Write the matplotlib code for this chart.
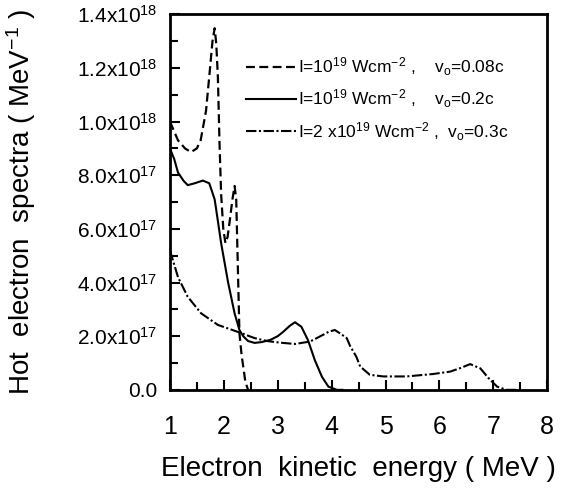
import matplotlib
matplotlib.use("Agg")
import matplotlib.pyplot as plt
from matplotlib.ticker import MultipleLocator, FixedLocator, FixedFormatter

plt.rcParams['font.family'] = ['Liberation Sans', 'DejaVu Sans']
plt.rcParams['mathtext.fontset'] = 'custom'
plt.rcParams['mathtext.rm'] = 'Liberation Sans'
plt.rcParams['mathtext.it'] = 'Liberation Sans'
plt.rcParams['mathtext.default'] = 'regular'

# Series 1: I=1e19, v0=0.08c (dashed)
e1 = [1.0, 1.15, 1.28, 1.39, 1.5, 1.57, 1.67, 1.74, 1.79, 1.83, 1.86, 1.89, 1.92, 1.95,
      1.99, 2.03, 2.07, 2.11, 2.16, 2.20, 2.23, 2.26, 2.29, 2.33, 2.36, 2.40, 2.45]
s1 = [1.0, 0.93, 0.90, 0.886, 0.90, 0.93, 1.04, 1.19, 1.30, 1.348, 1.29, 1.165, 0.92, 0.73,
      0.60, 0.547, 0.57, 0.63, 0.71, 0.76, 0.71, 0.46, 0.21, 0.13, 0.087, 0.03, 0.0]

# Series 2: I=1e19, v0=0.2c (solid)
e2 = [1.0, 1.08, 1.15, 1.25, 1.33, 1.46, 1.61, 1.73, 1.83, 1.86, 1.95, 2.08, 2.20, 2.29,
      2.36, 2.45, 2.57, 2.70, 2.86, 3.0, 3.1, 3.22, 3.32, 3.44, 3.56, 3.69, 3.82, 3.94,
      4.1, 4.2]
s2 = [0.90, 0.86, 0.81, 0.78, 0.763, 0.77, 0.78, 0.77, 0.71, 0.67, 0.547, 0.40, 0.285, 0.223,
      0.20, 0.182, 0.175, 0.178, 0.186, 0.20, 0.216, 0.238, 0.252, 0.235, 0.186, 0.11, 0.049, 0.012,
      0.0, 0.0]

# Series 3: I=2e19, v0=0.3c (dash-dot)
e3 = [1.0, 1.15, 1.33, 1.58, 1.89, 2.26, 2.57, 2.8, 3.04, 3.32, 3.6, 3.84, 3.95, 4.06,
      4.16, 4.28, 4.34, 4.46, 4.53, 4.71, 4.96, 5.39, 5.88, 6.2, 6.4, 6.57, 6.76, 6.91,
      7.07, 7.25, 7.5]
s3 = [0.52, 0.42, 0.347, 0.285, 0.242, 0.216, 0.193, 0.182, 0.176, 0.171, 0.18, 0.205, 0.217, 0.223,
      0.21, 0.193, 0.165, 0.123, 0.087, 0.056, 0.05, 0.05, 0.059, 0.068, 0.082, 0.096, 0.08, 0.044,
      0.012, 0.0, 0.0]

scale = 1e18
labels = [r"I=10$^{19}$ Wcm$^{-2}$ ,    v$_o$=0.08c",
          r"I=10$^{19}$ Wcm$^{-2}$ ,    v$_o$=0.2c",
          r"I=2 x10$^{19}$ Wcm$^{-2}$ ,  v$_o$=0.3c"]

xticks = [1, 2, 3, 4, 5, 6, 7, 8]
yticks = [0.0, 0.2, 0.4, 0.6, 0.8, 1.0, 1.2, 1.4]
ylabels = ["0.0", r"2.0x10$^{17}$", r"4.0x10$^{17}$", r"6.0x10$^{17}$", r"8.0x10$^{17}$",
           r"1.0x10$^{18}$", r"1.2x10$^{18}$", r"1.4x10$^{18}$"]

fig = plt.figure(figsize=(5.76, 4.91), dpi=100)
ax = fig.add_axes([0.295, 0.206, 0.655, 0.765])

ax.plot(e1, [v * scale for v in s1], color='black', lw=1.6, linestyle=(0, (4, 2)), label=labels[0])
ax.plot(e2, [v * scale for v in s2], color='black', lw=1.5, linestyle='-', label=labels[1])
ax.plot(e3, [v * scale for v in s3], color='black', lw=1.5, linestyle=(0, (5, 1.2, 1, 1.2)), label=labels[2])

ax.set_xlim(1, 8)
ax.set_ylim(0, 1.4e18)
ax.xaxis.set_major_locator(FixedLocator(xticks))
ax.xaxis.set_minor_locator(MultipleLocator(0.5))
ax.yaxis.set_major_locator(FixedLocator([v * scale for v in yticks]))
ax.yaxis.set_major_formatter(FixedFormatter(ylabels))
ax.yaxis.set_minor_locator(MultipleLocator(0.1e18))

ax.tick_params(axis='both', which='both', direction='in', top=False, right=False, width=1.5, color='black')
ax.tick_params(axis='both', which='major', length=7)
ax.tick_params(axis='both', which='minor', length=6)
ax.tick_params(axis='x', which='major', labelsize=18, pad=18)
ax.tick_params(axis='y', which='major', labelsize=15, pad=9)

for sp in ax.spines.values():
    sp.set_linewidth(2)

ax.set_xlabel("Electron  kinetic  energy ( MeV )", fontsize=20, labelpad=12)
ax.set_ylabel(r"Hot  electron  spectra ( MeV$^{-1}$ )", fontsize=20)
ax.yaxis.set_label_coords(-0.35, 0.5)

leg = ax.legend(loc='center left', bbox_to_anchor=(0.16, 0.774), frameon=False, fontsize=12.5,
                handlelength=2.9, handletextpad=0.1, labelspacing=0.55, borderpad=0.4)

fig.savefig("out.png", dpi=100)
